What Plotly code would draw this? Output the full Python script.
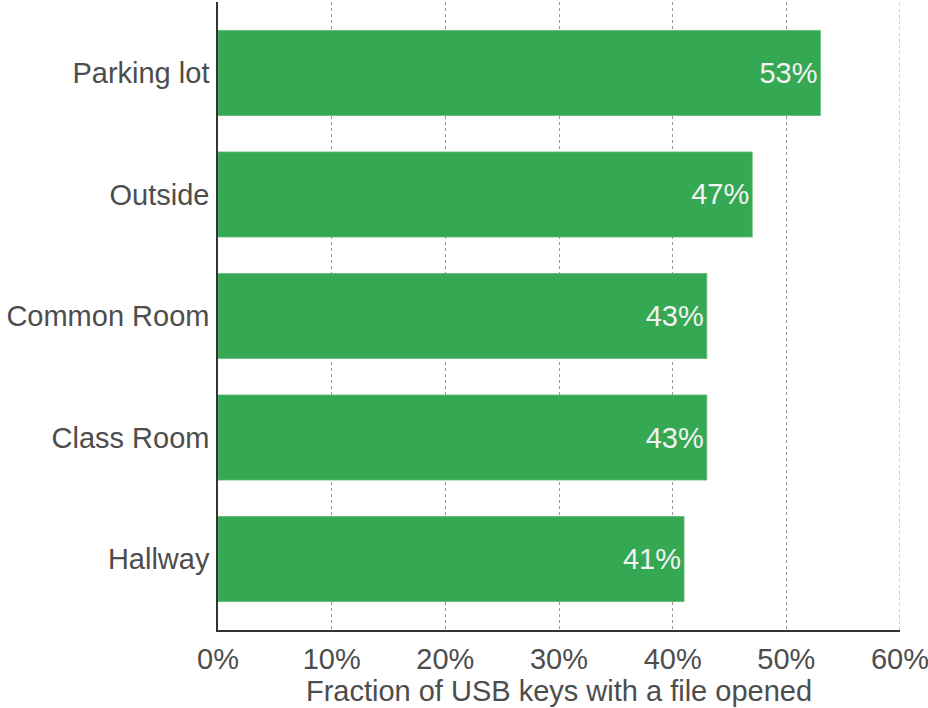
import plotly.graph_objects as go

categories = ["Hallway", "Class Room", "Common Room", "Outside", "Parking lot"]
values = [41, 43, 43, 47, 53]
labels = [f"{v}%" for v in values]
tick_vals = [0, 10, 20, 30, 40, 50, 60]
tick_text = [f"{v}%" for v in tick_vals]

FONT = "Liberation Sans, Arial, sans-serif"
FS = 29
fig = go.Figure(
    go.Bar(
        y=categories,
        x=values,
        orientation="h",
        width=0.70,
        marker=dict(color="#34a853", line=dict(color="#5dba73", width=0.8)),
        text=labels,
        textposition="inside",
        insidetextanchor="end",
        textfont=dict(family=FONT, size=FS, color="#f2f2f2"),
        hoverinfo="skip",
    )
)
fig.update_layout(
    width=928,
    height=708,
    margin=dict(l=218, r=28, t=2, b=78),
    plot_bgcolor="white",
    paper_bgcolor="white",
    showlegend=False,
    uniformtext=dict(minsize=FS, mode="show"),
    font=dict(family=FONT, color="#4d4d4d"),
)
# dotted gridline at the right end of the range (plotly drops the edge gridline)
fig.add_shape(
    type="line", xref="x", yref="paper",
    x0=tick_vals[-1], x1=tick_vals[-1], y0=0, y1=1,
    line=dict(color="#999999", width=1, dash="dot"),
    layer="below",
)
fig.update_xaxes(
    range=[0, 60],
    automargin=False,
    tickvals=tick_vals,
    ticktext=tick_text,
    tickfont=dict(size=FS, color="#4d4d4d"),
    ticklabeloverflow="allow",
    showgrid=True,
    gridcolor="#999999",
    griddash="dot",
    gridwidth=1,
    zeroline=False,
    showline=True,
    linecolor="#333333",
    linewidth=1.5,
    ticks="",
    ticklabelstandoff=2,
    title=dict(text="Fraction of USB keys with a file opened", font=dict(size=FS, color="#4d4d4d"), standoff=4),
)
fig.update_yaxes(
    range=[-0.584, 4.584],
    automargin=False,
    tickfont=dict(size=FS, color="#4d4d4d"),
    showgrid=False,
    zeroline=False,
    showline=True,
    linecolor="#333333",
    linewidth=1.5,
    ticks="",
    ticklabelstandoff=1,
)
fig.write_html("out.html")
